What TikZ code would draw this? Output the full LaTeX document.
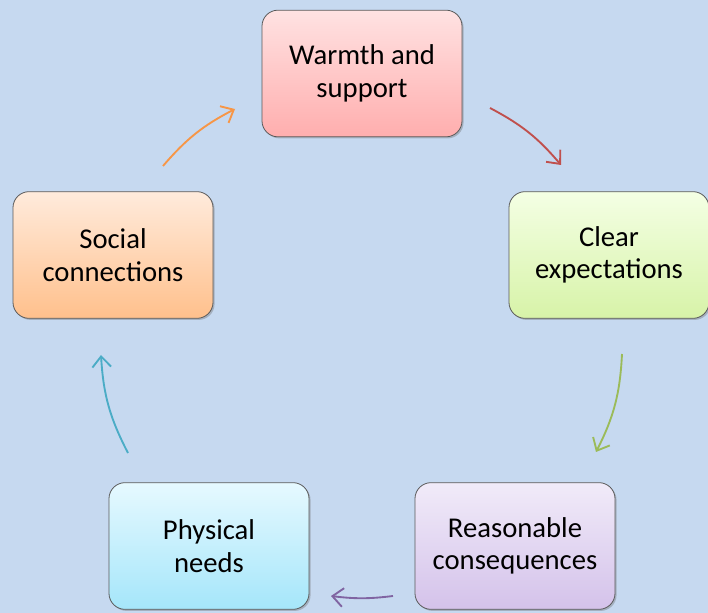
\documentclass[tikz,border=0pt]{standalone}
\usepackage{xcolor}
\usepackage{fontspec}
\setmainfont{Carlito}
\usepackage{tikz}
\usetikzlibrary{arrows.meta}
\usetikzlibrary{shadows}

\definecolor{bgblue}{HTML}{C6D9F0}
\definecolor{arrred}{HTML}{C0504D}
\definecolor{arrgreen}{HTML}{9BBB59}
\definecolor{arrpurple}{HTML}{8064A2}
\definecolor{arrteal}{HTML}{4BACC6}
\definecolor{arrorange}{HTML}{F79646}
\definecolor{warmtop}{HTML}{FFE2E2}
\definecolor{warmbot}{HTML}{FFAEAE}
\definecolor{cleartop}{HTML}{F4FFE4}
\definecolor{clearbot}{HTML}{D7F3A8}
\definecolor{reasontop}{HTML}{F1EBF9}
\definecolor{reasonbot}{HTML}{D4C2EA}
\definecolor{phystop}{HTML}{E6F9FF}
\definecolor{physbot}{HTML}{A5E6FA}
\definecolor{socialtop}{HTML}{FFEBDC}
\definecolor{socialbot}{HTML}{FFC08C}

\tikzset{
    cyclebox/.style={draw=black!65, line width=0.6pt, rounded corners=12pt,
        minimum width=150pt, minimum height=95pt, align=center,
        font=\fontsize{21.5}{24.5}\selectfont,
        drop shadow={shadow xshift=1.2pt, shadow yshift=-1.2pt, fill=black!60, opacity=0.35}},
    cyclearrow/.style={line width=1.4pt, -{Straight Barb[length=8pt, width=14pt, line width=1.4pt]}}
}

\begin{document}
\begin{tikzpicture}[x=0.75pt, y=0.75pt]
    \useasboundingbox (0,0) rectangle (708,-613);
    \fill[color=bgblue] (0,0) rectangle (708,-613);

    \node[cyclebox, top color=warmtop, bottom color=warmbot] (warmth) at (362,-73.5) {Warmth and\\support};
    \node[cyclebox, top color=cleartop, bottom color=clearbot] (clear) at (609,-255) {Clear\\expectations};
    \node[cyclebox, top color=reasontop, bottom color=reasonbot] (reason) at (515,-546) {Reasonable\\consequences};
    \node[cyclebox, top color=phystop, bottom color=physbot] (physical) at (209,-546) {Physical\\needs};
    \node[cyclebox, top color=socialtop, bottom color=socialbot] (social) at (113,-255) {Social\\connections};

    \coordinate (warmthout) at (490,-108);
    \coordinate (clearin) at (561,-165);
    \coordinate (clearout) at (622,-354);
    \coordinate (reasonin) at (596,-452);
    \coordinate (reasonout) at (393,-596);
    \coordinate (physicalin) at (331,-596);
    \coordinate (physicalout) at (128,-453);
    \coordinate (socialin) at (101,-355);
    \coordinate (socialout) at (163,-166);
    \coordinate (warmthin) at (235,-109);

    \draw[cyclearrow, color=arrred] (warmthout) to[bend left=11] (clearin);
    \draw[cyclearrow, color=arrgreen] (clearout) to[bend left=12] (reasonin);
    \draw[cyclearrow, color=arrpurple] (reasonout) to[bend left=7] (physicalin);
    \draw[cyclearrow, color=arrteal] (physicalout) to[bend left=12] (socialin);
    \draw[cyclearrow, color=arrorange] (socialout) to[bend left=11] (warmthin);
\end{tikzpicture}
\end{document}
